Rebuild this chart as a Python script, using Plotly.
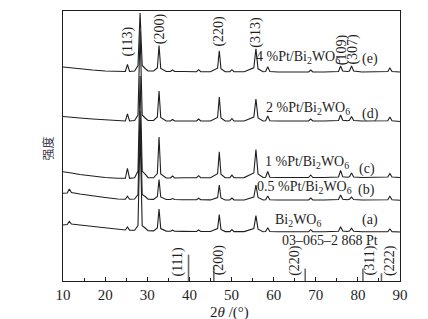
import plotly.graph_objects as go

# ---------------- data ----------------
TWO_THETA = [
    10, 11, 11.5, 12, 14, 17, 20, 23,
    24.8, 25.3, 25.8, 27.0, 27.8, 28.3, 28.8, 29.5,
    30.2, 31.5, 32.4, 32.8, 33.2, 34.5, 35.5, 36.0,
    36.5, 38.5, 41.7, 42.2, 42.7, 45.0, 46.7, 47.1,
    47.5, 48.5, 49.6, 50.1, 50.6, 53.0, 55.3, 55.8,
    56.3, 57.5, 58.1, 58.6, 59.1, 61, 64, 68.3,
    68.8, 69.3, 72, 75.4, 75.9, 76.4, 77.5, 78.0,
    78.5, 79.0, 81, 84, 87.1, 87.6, 88.1, 90,
]

# stacked intensities (a.u., offset already included)
I_E_4PT = [
    214, 213.5, 213.5, 213, 212.5, 211, 210, 209.5,
    209.5, 216.5, 209.5, 210, 215.5, 268, 215.5, 212.5,
    210, 210, 213, 235.5, 212.5, 209.5, 209.5, 211,
    209.5, 209.5, 209.3, 211.3, 209.3, 209.3, 212.8, 230.3,
    212.3, 209.3, 209.3, 211.3, 209.3, 209.2, 213.2, 232.2,
    212.2, 209.2, 209.5, 214.2, 209.5, 209, 209, 209,
    211, 209, 209, 209.5, 215, 210, 209.5, 210,
    215, 210, 209, 209, 209.5, 213, 209.5, 209,
]
I_D_2PT = [
    164.5, 164, 164, 163.5, 163, 162, 161, 160.5,
    160, 167, 160, 160.5, 166, 250, 166, 163,
    160.5, 160.5, 164, 190, 163.5, 160, 160, 161.5,
    160, 160, 160, 162, 160, 160, 163.5, 184,
    163, 160, 160, 162.5, 160, 160, 164, 182,
    163, 160, 160.3, 165, 160.3, 160, 160, 160,
    162, 160, 160, 160.5, 166, 160.8, 160.3, 160.8,
    164.5, 160.5, 160, 160, 160.3, 164, 160.3, 159.5,
]
I_C_1PT = [
    109.3, 108.8, 108.5, 108, 106.5, 105, 103.5, 102.8,
    102.7, 112.7, 102.7, 103.2, 110, 205, 110, 106.8,
    103.3, 103.2, 107.5, 144, 107, 103, 103, 105,
    103, 103.2, 103.3, 105.3, 103.3, 103.3, 107.3, 129.3,
    106.8, 103.3, 103.3, 105.8, 103.3, 103.4, 108, 131.5,
    107, 103.5, 103.8, 109.5, 103.8, 103.5, 103.5, 103.5,
    106, 103.5, 103.5, 104, 110.5, 104.2, 103.7, 104.3,
    108, 104, 103.5, 103.5, 104, 107.5, 104, 103.5,
]
I_B_05PT = [
    87.7, 88, 92, 88.5, 87, 85, 83.5, 82,
    81.7, 84.7, 81.7, 82, 86.5, 170, 86.5, 84.5,
    81.8, 81.6, 84.5, 101.5, 84, 81.5, 81.5, 82.5,
    81.5, 81.3, 81.2, 82.7, 81.2, 81.1, 83.5, 96,
    83, 81, 81, 83, 81, 81, 84, 96,
    83.5, 81, 81.3, 85, 81.3, 81, 81, 81,
    83, 81, 81, 81.5, 86, 81.8, 81.2, 81.8,
    84, 81.5, 81, 81, 81.3, 84.7, 81.3, 80.7,
]
I_A_BWO = [
    56, 56.5, 59.5, 57, 56, 54.5, 53, 51.5,
    51, 54, 50.9, 50.7, 55.5, 150, 55.3, 53,
    50.3, 50.1, 53, 72, 52.4, 49.9, 49.8, 50.8,
    49.8, 49.6, 49.5, 51, 49.5, 49.5, 52.5, 66.5,
    51.5, 49.4, 49.4, 51.4, 49.4, 49.4, 52.4, 65.4,
    51.8, 49.3, 49.5, 53.3, 49.5, 49.3, 49.3, 49.3,
    51.3, 49.3, 49.3, 49.8, 54.3, 50, 49.5, 50,
    52.8, 49.8, 49.2, 49.1, 49.4, 52, 49.4, 49,
]

SAMPLE_NAMES = [
    "Bi<sub>2</sub>WO<sub>6</sub>",
    "0.5 %Pt/Bi<sub>2</sub>WO<sub>6</sub>",
    "1 %Pt/Bi<sub>2</sub>WO<sub>6</sub>",
    "2 %Pt/Bi<sub>2</sub>WO<sub>6</sub>",
    "4 %Pt/Bi<sub>2</sub>WO<sub>6</sub>",
]
SAMPLE_TAGS = ["(a)", "(b)", "(c)", "(d)", "(e)"]

BWO_HKL = ["(113)", "(200)", "(220)", "(313)", "(109)", "(307)"]
BWO_HKL_POS = [25.5, 32.9, 47.1, 55.8, 76.2, 78.9]

PT_CARD = "03–065–2 868 Pt"
PT_HKL = ["(111)", "(200)", "(220)", "(311)", "(222)"]
PT_POS = [39.8, 45.8, 67.5, 81.2, 85.6]
PT_INT = [26.4, 14.0, 12.5, 12.5, 7.7]

X_TICKS = [10, 20, 30, 40, 50, 60, 70, 80, 90]

# ---------------- figure ----------------
SERIF = "Liberation Serif, Times New Roman, serif"
INK = "#1e1e1e"

fig = go.Figure()
for ys in [I_A_BWO, I_B_05PT, I_C_1PT, I_D_2PT, I_E_4PT]:
    fig.add_trace(go.Scatter(x=TWO_THETA, y=ys, mode="lines",
                             line=dict(color=INK, width=1.1),
                             hoverinfo="skip", showlegend=False))

# Pt reference sticks
sx, sy = [], []
for p, h in zip(PT_POS, PT_INT):
    sx += [p, p, None]
    sy += [0, h, None]
fig.add_trace(go.Scatter(x=sx, y=sy, mode="lines",
                         line=dict(color="#6a6a6a", width=1.6),
                         hoverinfo="skip", showlegend=False))

ann = []
def add(text, x, y, size=14, angle=0, xref="x", yref="y", family=SERIF, color=INK):
    ann.append(dict(text=text, x=x, y=y, xref=xref, yref=yref, showarrow=False,
                    textangle=angle, xanchor="center", yanchor="middle",
                    font=dict(family=family, size=size, color=color)))

# hkl labels of Bi2WO6
hkl_y = [239.7, 252.2, 249.7, 249.2, 231.7, 231.7]
for t, x, y in zip(BWO_HKL, BWO_HKL_POS, hkl_y):
    add(t, x, y, angle=-90)

# sample labels
name_xy = [(65.7, 60.5), (67.3, 93.5), (68.0, 118.5), (68.2, 172.8), (65.9, 223.5)]
tag_xy = [(82.9, 60.7), (82.1, 90.7), (82.1, 112.4), (82.9, 167.4), (82.9, 222.4)]
for t, (x, y) in zip(SAMPLE_NAMES, name_xy):
    add(t, x, y, size=14)
for t, (x, y) in zip(SAMPLE_TAGS, tag_xy):
    add(t, x, y, size=14)

# Pt card & hkl
add(PT_CARD, 73.5, 40.7, size=14)
pt_lab_xy = [(37.4, 19.9), (47.0, 21.5), (65.2, 20.7), (82.9, 20.7), (87.8, 20.7)]
for t, (x, y) in zip(PT_HKL, pt_lab_xy):
    add(t, x, y, angle=-90)

# axis titles
add("强度", -0.0475, 0.491, size=12, angle=-90, xref="paper", yref="paper",
    family="Noto Sans CJK SC", color="#3a3a4a")
add("2<i>θ</i> /(°)", 0.4955, -0.115, size=15, xref="paper", yref="paper")

fig.update_layout(
    width=428, height=319,
    margin=dict(l=63, r=28, t=11, b=38),
    paper_bgcolor="white", plot_bgcolor="white",
    annotations=ann,
    xaxis=dict(range=[10, 90], tickvals=X_TICKS, ticks="inside", ticklen=4,
               tickcolor=INK, showline=True, linecolor=INK, linewidth=1,
               mirror=True, showgrid=False, zeroline=False,
               tickfont=dict(family=SERIF, size=15, color=INK),
               minor=dict(dtick=5, tick0=10, ticks="inside", ticklen=3, tickcolor=INK)),
    yaxis=dict(range=[0, 270], showticklabels=False, ticks="",
               showline=True, linecolor=INK, linewidth=1, mirror=True,
               showgrid=False, zeroline=False),
)

fig.write_html("out.html", config={"displayModeBar": False},
               post_script="document.body.style.margin='0';document.body.style.overflow='hidden';")
